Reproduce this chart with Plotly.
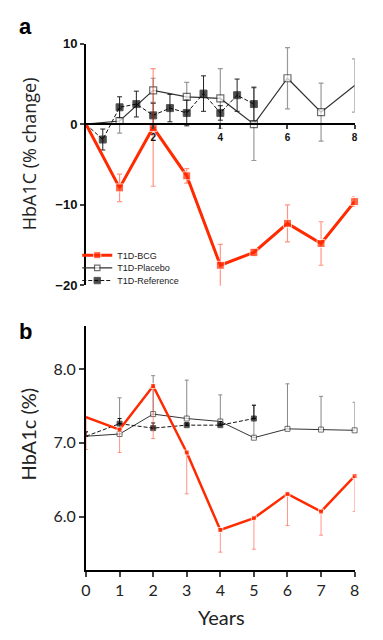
import plotly.graph_objects as go

# ---------------- Data: panel a (HbA1C % change) ----------------
years_a = [0, 1, 2, 3, 4, 5, 6, 7, 8]
bcg_a = [0, -7.9, -0.4, -6.4, -17.5, -15.9, -12.3, -14.8, -9.6]
bcg_a_err = [0, 1.7, 7.3, 0.9, 2.6, 0.4, 2.3, 2.7, 0.6]
placebo_a = [0, 0.4, 4.2, 3.4, 3.2, 0.0, 5.7, 1.5, 4.8]
placebo_a_err = [0, 1.5, 1.5, 1.8, 3.7, 4.5, 3.8, 3.6, 3.3]
years_a_ref = [0, 0.5, 1, 1.5, 2, 2.5, 3, 3.5, 4, 4.5, 5]
reference_a = [0, -1.9, 2.1, 2.5, 1.1, 2.0, 1.4, 3.8, 1.4, 3.6, 2.5]
reference_a_err = [0, 1.3, 1.3, 1.6, 1.5, 1.7, 1.6, 2.2, 0.9, 2.0, 2.1]
ticks_a_x = [2, 4, 6, 8]
ticks_a_y = [-20, -10, 0, 10]

# ---------------- Data: panel b (HbA1c %) ----------------
years_b = [0, 1, 2, 3, 4, 5, 6, 7, 8]
bcg_b = [7.35, 7.18, 7.77, 6.87, 5.82, 5.98, 6.31, 6.07, 6.55]
bcg_b_err_minus = [0.44, 0.31, 0.71, 0.56, 0.30, 0.42, 0.43, 0.32, 0.48]
placebo_b = [7.09, 7.12, 7.39, 7.33, 7.29, 7.07, 7.19, 7.18, 7.17]
placebo_b_err_plus = [0.06, 0.49, 0.52, 0.52, 0.36, 0.44, 0.61, 0.45, 0.38]
years_b_ref = [0, 1, 2, 3, 4, 5]
reference_b = [7.09, 7.26, 7.20, 7.24, 7.24, 7.33]
reference_b_err_plus = [0.06, 0.07, 0.07, 0.03, 0.05, 0.18]
ticks_b_x = [0, 1, 2, 3, 4, 5, 6, 7, 8]
ticks_b_y = [6, 7, 8]
ticklabels_b_y = ["6.0", "7.0", "8.0"]

RED = "#ff2a00"
RED_ERR = "rgba(255,60,30,0.55)"

# The page body has an 8px margin, so the figure is sized to fill the rest
# of the window and screen positions are converted to paper fractions.
OFF = 8
W, H = 383 - OFF, 640 - OFF


def px(s):
    return (s - OFF) / W


def py(s):
    return 1 - (s - OFF) / H


def sizes(xs, s, hide_last=False):
    out = [0 if x == 0 else s for x in xs]
    if hide_last:
        out[-1] = 0
    return out


fig = go.Figure()

# ---- panel a ----
fig.add_trace(go.Scatter(
    x=years_a, y=placebo_a, name="T1D-Placebo", mode="lines+markers",
    line=dict(color="#333333", width=1.2),
    marker=dict(symbol="square", size=sizes(years_a, 7, True), color="white",
                line=dict(color="#333333", width=1.2)),
    error_y=dict(type="data", array=placebo_a_err, color="#999999", thickness=1.2, width=2.5),
    xaxis="x", yaxis="y", cliponaxis=False, legend="legend2"))
fig.add_trace(go.Scatter(
    x=years_a_ref, y=reference_a, name="T1D-Reference", mode="lines+markers",
    line=dict(color="#111111", width=1, dash="4px,2px"),
    marker=dict(symbol="square", size=sizes(years_a_ref, 7), color="black"),
    error_y=dict(type="data", array=reference_a_err, color="#222222", thickness=1, width=2.5),
    xaxis="x", yaxis="y", cliponaxis=False, legend="legend3"))
fig.add_trace(go.Scatter(
    x=years_a, y=bcg_a, name="T1D-BCG", mode="lines+markers",
    line=dict(color=RED, width=3),
    marker=dict(symbol="square", size=sizes(years_a, 8), color=RED),
    error_y=dict(type="data", array=bcg_a_err, color=RED_ERR, thickness=1.2, width=2.5),
    xaxis="x", yaxis="y", cliponaxis=False, legend="legend"))

# ---- panel b ----
fig.add_trace(go.Scatter(
    x=years_b, y=placebo_b, mode="lines+markers", showlegend=False,
    line=dict(color="#333333", width=1),
    marker=dict(symbol="square", size=sizes(years_b, 5), color="white",
                line=dict(color="#333333", width=1)),
    error_y=dict(type="data", symmetric=False, array=placebo_b_err_plus,
                 arrayminus=[0] * len(placebo_b), color="#888888", thickness=1, width=2),
    xaxis="x2", yaxis="y2", cliponaxis=False))
fig.add_trace(go.Scatter(
    x=years_b_ref, y=reference_b, mode="lines+markers", showlegend=False,
    line=dict(color="#111111", width=1, dash="4px,2px"),
    marker=dict(symbol="square", size=sizes(years_b_ref, 5), color="black"),
    error_y=dict(type="data", symmetric=False, array=reference_b_err_plus,
                 arrayminus=[0] * len(reference_b), color="#111111", thickness=1, width=2),
    xaxis="x2", yaxis="y2", cliponaxis=False))
fig.add_trace(go.Scatter(
    x=years_b, y=bcg_b, mode="lines+markers", showlegend=False,
    line=dict(color=RED, width=2.5),
    marker=dict(symbol="square", size=sizes(years_b, 5), color=RED),
    error_y=dict(type="data", symmetric=False, array=[0] * len(bcg_b),
                 arrayminus=bcg_b_err_minus, color="rgba(255,80,60,0.6)", thickness=1, width=2),
    xaxis="x2", yaxis="y2", cliponaxis=False))

xdom = [px(83), px(359)]
legend_font = dict(family="Liberation Sans", size=9, color="#222222")


def legend_at(ys):
    return dict(x=px(74), y=py(ys), xanchor="left", yanchor="middle",
                font=legend_font, itemwidth=30, bgcolor="rgba(0,0,0,0)")


def label(text, xs, ys, font, angle=0):
    return dict(text=text, x=px(xs), y=py(ys), xref="paper", yref="paper",
                xanchor="center", yanchor="middle", showarrow=False,
                textangle=angle, font=font)


fig.update_layout(
    width=W, height=H, margin=dict(l=0, r=0, t=0, b=0),
    paper_bgcolor="white", plot_bgcolor="white",
    showlegend=True,
    legend=legend_at(254),
    legend2=legend_at(267),
    legend3=legend_at(280),
    xaxis=dict(domain=xdom, range=[0, 8], anchor="free", position=py(120),
               tickvals=ticks_a_x, ticks="outside", ticklen=4, tickwidth=1.5,
               showline=True, linewidth=2, linecolor="black", showgrid=False,
               zeroline=False,
               tickfont=dict(family="Liberation Sans", size=10, color="#111", weight="bold")),
    yaxis=dict(domain=[py(285), py(37.3)], range=[-20, 10], anchor="x",
               tickvals=ticks_a_y, ticks="outside", ticklen=4, tickwidth=1.5,
               showline=True, linewidth=2, linecolor="black", showgrid=False,
               zeroline=False,
               tickfont=dict(family="Liberation Sans", size=13, color="#111", weight="bold")),
    xaxis2=dict(domain=xdom, range=[0, 8], anchor="y2",
                tickvals=ticks_b_x, ticks="outside", ticklen=5, tickwidth=1.5,
                showline=True, linewidth=1.8, linecolor="black", showgrid=False,
                zeroline=False,
                tickfont=dict(family="Lato", size=16, color="#222")),
    yaxis2=dict(domain=[py(576.7), py(326.7)], range=[5.276, 8.581], anchor="x2",
                tickvals=ticks_b_y, ticktext=ticklabels_b_y, ticks="outside", ticklen=5,
                tickwidth=1.5, showline=True, linewidth=1.8, linecolor="black",
                showgrid=False, zeroline=False,
                tickfont=dict(family="Lato", size=16, color="#222")),
    annotations=[
        label("a", 21, 20, dict(family="Liberation Sans", size=22, color="black", weight="bold")),
        label("b", 21, 332, dict(family="Liberation Sans", size=22, color="black", weight="bold")),
        label("HbA1C (% change)", 24, 150, dict(family="Open Sans", size=18, color="#222"), -90),
        label("HbA1c (%)", 23, 437, dict(family="Lato", size=20, color="#222"), -90),
        label("Years", 222, 625, dict(family="Lato", size=20, color="#222")),
    ],
)

fig.write_html("out.html")
